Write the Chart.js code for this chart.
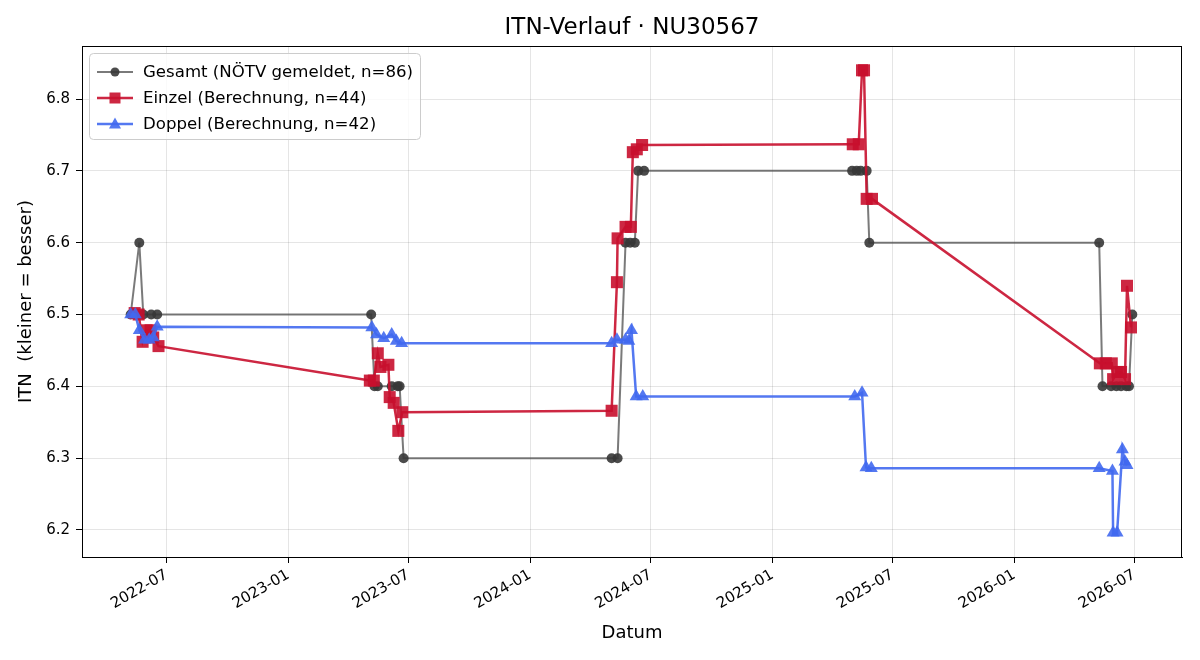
<!DOCTYPE html>
<html>
<head>
<meta charset="utf-8">
<script src="https://cdn.jsdelivr.net/npm/chart.js@4.4.1/dist/chart.umd.min.js"></script>
<style>
  html, body { margin: 0; padding: 0; background: #fff; }
  #chart { display: block; }
</style>
</head>
<body>
<canvas id="chart" width="1200" height="660"></canvas>
<script>
// Gesamt (NÖTV gemeldet)
const gesamtDates = [
  "2022-05-08", "2022-05-21", "2022-05-27", "2022-06-08", "2022-06-17",
  "2023-05-06", "2023-05-11", "2023-05-16", "2023-06-06", "2023-06-15", "2023-06-18", "2023-06-24",
  "2024-05-03", "2024-05-12", "2024-05-24", "2024-05-31", "2024-06-07", "2024-06-12", "2024-06-21",
  "2025-05-01", "2025-05-08", "2025-05-14", "2025-05-23", "2025-05-27",
  "2026-05-09", "2026-05-14", "2026-05-27", "2026-06-04", "2026-06-11", "2026-06-19", "2026-06-23", "2026-06-28"
];
const gesamtValues = [
  6.5, 6.6, 6.5, 6.5, 6.5,
  6.5, 6.4, 6.4, 6.4, 6.4, 6.4, 6.3,
  6.3, 6.3, 6.6, 6.6, 6.6, 6.7, 6.7,
  6.7, 6.7, 6.7, 6.7, 6.6,
  6.6, 6.4, 6.4, 6.4, 6.4, 6.4, 6.4, 6.5
];

// Einzel (Berechnung)
const einzelDates = [
  "2022-05-14", "2022-05-20", "2022-05-26", "2022-06-01", "2022-06-07", "2022-06-11", "2022-06-19",
  "2023-05-04", "2023-05-10", "2023-05-16", "2023-05-20", "2023-06-01", "2023-06-03", "2023-06-09", "2023-06-16", "2023-06-22",
  "2024-05-03", "2024-05-11", "2024-05-12", "2024-05-24", "2024-06-01", "2024-06-04", "2024-06-10", "2024-06-18",
  "2025-05-02", "2025-05-11", "2025-05-16", "2025-05-19", "2025-05-23", "2025-05-31",
  "2026-05-10", "2026-05-19", "2026-05-28", "2026-05-30", "2026-06-06", "2026-06-11", "2026-06-17", "2026-06-20", "2026-06-26"
];
const einzelValues = [
  6.502, 6.500, 6.462, 6.478, 6.478, 6.468, 6.456,
  6.408, 6.408, 6.446, 6.427, 6.430, 6.385, 6.377, 6.338, 6.364,
  6.366, 6.545, 6.606, 6.622, 6.622, 6.726, 6.730, 6.736,
  6.737, 6.737, 6.840, 6.840, 6.661, 6.661,
  6.432, 6.432, 6.432, 6.410, 6.420, 6.420, 6.410, 6.540, 6.482
];

// Doppel (Berechnung)
const doppelDates = [
  "2022-05-08", "2022-05-15", "2022-05-21", "2022-05-29", "2022-06-05", "2022-06-11", "2022-06-17",
  "2023-05-07", "2023-05-14", "2023-05-25", "2023-06-06", "2023-06-13", "2023-06-21",
  "2024-05-03", "2024-05-11", "2024-05-24", "2024-05-29", "2024-06-02", "2024-06-09", "2024-06-19",
  "2025-05-05", "2025-05-16", "2025-05-22", "2025-05-30",
  "2026-05-09", "2026-05-29", "2026-05-30", "2026-06-05", "2026-06-13", "2026-06-17", "2026-06-20"
];
const doppelValues = [
  6.500, 6.500, 6.478, 6.465, 6.465, 6.468, 6.483,
  6.482, 6.472, 6.467, 6.472, 6.463, 6.460,
  6.460, 6.465, 6.465, 6.463, 6.478, 6.386, 6.386,
  6.386, 6.391, 6.287, 6.286,
  6.286, 6.282, 6.196, 6.196, 6.312, 6.295, 6.290
];

const xTickLabels = ["2022-07", "2023-01", "2023-07", "2024-01", "2024-07", "2025-01", "2025-07", "2026-01", "2026-07"];
const yTickValues = [6.2, 6.3, 6.4, 6.5, 6.6, 6.7, 6.8];

const chartTitle = "ITN-Verlauf · NU30567";
const FONT = "'DejaVu Sans', sans-serif";

function toMs(s) {
  const p = s.split("-");
  return Date.UTC(+p[0], +p[1] - 1, +p[2]);
}
function points(dates, values) {
  return dates.map((d, i) => ({ x: toMs(d), y: values[i] }));
}
function fmtMonth(ms) {
  const d = new Date(ms);
  const m = d.getUTCMonth() + 1;
  return d.getUTCFullYear() + "-" + (m < 10 ? "0" + m : m);
}

const grey = { line: "rgba(70,70,70,0.72)", marker: "rgba(55,55,55,0.9)" };
const red = { line: "rgba(200,16,46,0.9)", marker: "rgba(200,16,46,0.9)" };
const blue = { line: "rgba(65,105,240,0.9)", marker: "rgba(65,105,240,0.9)" };

// title centred over the plot area (like matplotlib)
const axTitle = {
  id: "axTitle",
  afterDraw(chart) {
    const a = chart.chartArea;
    const ctx = chart.ctx;
    ctx.save();
    ctx.font = "23px " + FONT;
    ctx.fillStyle = "#000";
    ctx.textAlign = "center";
    ctx.textBaseline = "middle";
    ctx.fillText(chartTitle, (a.left + a.right) / 2, 28);
    ctx.restore();
  }
};

// legend inside the plot, matplotlib style
const boxLegend = {
  id: "boxLegend",
  afterDatasetsDraw(chart) {
    const ctx = chart.ctx;
    const x0 = 89, y0 = 53, w = 331, h = 86;
    ctx.save();
    ctx.fillStyle = "rgba(255,255,255,0.8)";
    ctx.strokeStyle = "#cccccc";
    ctx.lineWidth = 1;
    ctx.beginPath();
    ctx.roundRect(x0 + 0.5, y0 + 0.5, w, h, 4);
    ctx.fill();
    ctx.stroke();
    ctx.font = "16.6px " + FONT;
    ctx.textBaseline = "middle";
    chart.data.datasets.forEach((ds, i) => {
      const y = 72 + i * 26;
      ctx.strokeStyle = ds.borderColor;
      ctx.lineWidth = ds.borderWidth;
      ctx.beginPath();
      ctx.moveTo(97, y);
      ctx.lineTo(133, y);
      ctx.stroke();
      ctx.fillStyle = ds.pointBackgroundColor;
      ctx.beginPath();
      if (ds.pointStyle === "circle") {
        ctx.arc(115, y, 4.5, 0, Math.PI * 2);
      } else if (ds.pointStyle === "rect") {
        ctx.rect(109.5, y - 5.5, 11, 11);
      } else {
        ctx.moveTo(115, y - 6.5);
        ctx.lineTo(121, y + 4.5);
        ctx.lineTo(109, y + 4.5);
        ctx.closePath();
      }
      ctx.fill();
      ctx.fillStyle = "#000";
      ctx.fillText(ds.label, 143, y + 1);
    });
    ctx.restore();
  }
};

// top and right spines
const frame = {
  id: "frame",
  afterDraw(chart) {
    const a = chart.chartArea;
    const ctx = chart.ctx;
    ctx.save();
    ctx.strokeStyle = "#000";
    ctx.lineWidth = 1;
    ctx.strokeRect(a.left + 0.5, a.top + 0.5, a.right - a.left - 1, a.bottom - a.top);
    ctx.restore();
  }
};

new Chart(document.getElementById("chart"), {
  type: "line",
  data: {
    datasets: [
      {
        label: "Gesamt (NÖTV gemeldet, n=86)",
        data: points(gesamtDates, gesamtValues),
        borderColor: grey.line,
        borderWidth: 2,
        pointStyle: "circle",
        pointRadius: 5,
        pointBackgroundColor: grey.marker,
        pointBorderColor: grey.marker,
        pointBorderWidth: 0,
        order: 3
      },
      {
        label: "Einzel (Berechnung, n=44)",
        data: points(einzelDates, einzelValues),
        borderColor: red.line,
        borderWidth: 2.5,
        pointStyle: "rect",
        pointRadius: 8.5,
        pointBackgroundColor: red.marker,
        pointBorderColor: red.marker,
        pointBorderWidth: 0,
        order: 2
      },
      {
        label: "Doppel (Berechnung, n=42)",
        data: points(doppelDates, doppelValues),
        borderColor: blue.line,
        borderWidth: 2.5,
        pointStyle: "triangle",
        pointRadius: 7.5,
        pointBackgroundColor: blue.marker,
        pointBorderColor: blue.marker,
        pointBorderWidth: 0,
        order: 1
      }
    ]
  },
  options: {
    responsive: false,
    animation: false,
    layout: { padding: { left: 0, right: 18, top: 46, bottom: 0 } },
    plugins: {
      legend: { display: false },
      tooltip: { enabled: false },
      title: { display: false }
    },
    scales: {
      x: {
        type: "linear",
        min: Date.UTC(2022, 1, 23, 12),
        max: Date.UTC(2026, 8, 11),
        afterBuildTicks(scale) {
          scale.ticks = xTickLabels.map((t) => ({ value: toMs(t + "-01") }));
        },
        afterFit(scale) { scale.height = 103; },
        ticks: {
          color: "#000",
          font: { family: FONT, size: 15 },
          minRotation: 30,
          maxRotation: 30,
          padding: 3,
          callback: (v) => fmtMonth(v)
        },
        grid: { color: "rgba(0,0,0,0.1)", tickColor: "#000", tickLength: 6, lineWidth: 1 },
        border: { color: "#000" },
        title: {
          display: true,
          text: "Datum",
          color: "#000",
          font: { family: FONT, size: 18 },
          padding: { top: 0, bottom: 16.2 }
        }
      },
      y: {
        min: 6.2 - 27 / 718,
        max: 6.8 + 53 / 718,
        afterBuildTicks(scale) {
          scale.ticks = yTickValues.map((v) => ({ value: v }));
        },
        afterFit(scale) { scale.width = 82; },
        ticks: {
          color: "#000",
          font: { family: FONT, size: 15 },
          padding: 6,
          callback: (v) => v.toFixed(1)
        },
        grid: { color: "rgba(0,0,0,0.1)", tickColor: "#000", tickLength: 6, lineWidth: 1 },
        border: { color: "#000" },
        title: {
          display: true,
          text: "ITN  (kleiner = besser)",
          color: "#000",
          font: { family: FONT, size: 18 },
          padding: { top: 15.2, bottom: 0 }
        }
      }
    }
  },
  plugins: [boxLegend, frame, axTitle]
});
</script>
</body>
</html>
